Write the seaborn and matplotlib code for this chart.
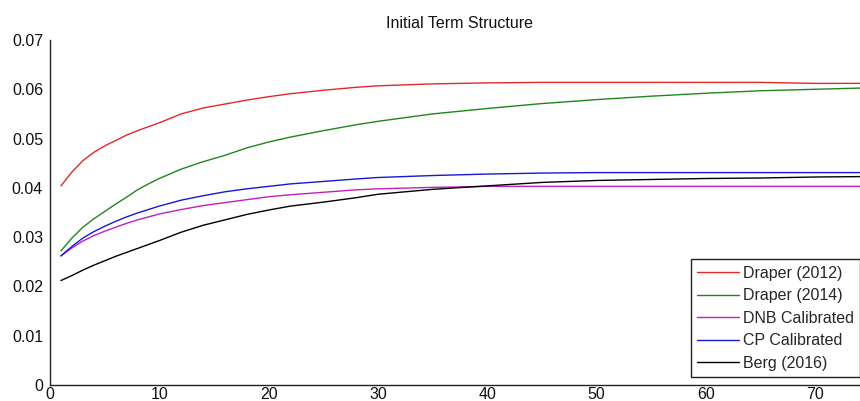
import matplotlib
matplotlib.use("Agg")
import matplotlib.pyplot as plt
import seaborn as sns
import pandas as pd

# ---- data ----
maturity = [1, 2, 3, 4, 5, 6, 7, 8, 9, 10, 12, 14, 16, 18, 20, 22, 25, 28, 30,
            35, 40, 45, 50, 55, 60, 65, 70, 75]

draper_2012 = [0.0404, 0.0432, 0.0455, 0.0472, 0.0485, 0.0496, 0.0507, 0.0516,
               0.0524, 0.0532, 0.0550, 0.0562, 0.0570, 0.0578, 0.0585, 0.0591,
               0.0598, 0.0604, 0.0607, 0.0611, 0.0613, 0.0614, 0.0614, 0.0614,
               0.0614, 0.0614, 0.0612, 0.0612]
draper_2014 = [0.0272, 0.0298, 0.0320, 0.0337, 0.0352, 0.0367, 0.0381, 0.0396,
               0.0408, 0.0419, 0.0438, 0.0453, 0.0466, 0.0481, 0.0493, 0.0503,
               0.0516, 0.0528, 0.0535, 0.0550, 0.0561, 0.0571, 0.0579, 0.0586,
               0.0592, 0.0597, 0.0600, 0.0603]
dnb_calibrated = [0.0262, 0.0278, 0.0292, 0.0303, 0.0312, 0.0320, 0.0328, 0.0335,
                  0.0341, 0.0347, 0.0356, 0.0364, 0.0370, 0.0376, 0.0382, 0.0386,
                  0.0391, 0.0396, 0.0398, 0.0401, 0.0403, 0.0403, 0.0403, 0.0403,
                  0.0403, 0.0403, 0.0403, 0.0403]
cp_calibrated = [0.0262, 0.0281, 0.0298, 0.0311, 0.0322, 0.0332, 0.0341, 0.0349,
                 0.0356, 0.0363, 0.0375, 0.0384, 0.0392, 0.0398, 0.0403, 0.0408,
                 0.0413, 0.0418, 0.0421, 0.0425, 0.0428, 0.0430, 0.0431, 0.0431,
                 0.0431, 0.0431, 0.0431, 0.0431]
berg_2016 = [0.0212, 0.0222, 0.0233, 0.0243, 0.0252, 0.0261, 0.0269, 0.0277,
             0.0285, 0.0293, 0.0310, 0.0324, 0.0335, 0.0346, 0.0355, 0.0363,
             0.0371, 0.0380, 0.0387, 0.0397, 0.0404, 0.0411, 0.0415, 0.0417,
             0.0419, 0.0420, 0.0422, 0.0423]

series_names = ["Draper (2012)", "Draper (2014)", "DNB Calibrated",
                "CP Calibrated", "Berg (2016)"]
series_values = [draper_2012, draper_2014, dnb_calibrated, cp_calibrated, berg_2016]

title = "Initial Term Structure"
x_ticks = [0, 10, 20, 30, 40, 50, 60, 70]
x_tick_labels = ["0", "10", "20", "30", "40", "50", "60", "70"]
y_ticks = [0, 0.01, 0.02, 0.03, 0.04, 0.05, 0.06, 0.07]
y_tick_labels = ["0", "0.01", "0.02", "0.03", "0.04", "0.05", "0.06", "0.07"]

colors = ["#e02a2a", "#1f861f", "#c020c0", "#1818d0", "#000000"]

# ---- build long-form table ----
rows = []
for name, vals in zip(series_names, series_values):
    for t, v in zip(maturity, vals):
        rows.append({"Maturity": t, "Rate": v, "Series": name})
df = pd.DataFrame(rows)

sns.set_style("white")
plt.rcParams["font.family"] = ["Liberation Sans", "DejaVu Sans"]

FS = 11.5
fig = plt.figure(figsize=(8.6, 4.01), dpi=100)
# axes: x=0 at px 50, y=0 at px 385, y=0.07 at px 40, 10.93 px per x unit
ax = fig.add_axes([50 / 860, 16 / 401, 75 * 10.93 / 860, 345 / 401])

sns.lineplot(data=df, x="Maturity", y="Rate", hue="Series",
             hue_order=series_names, palette=dict(zip(series_names, colors)),
             linewidth=1.0, legend=False, ax=ax)

ax.set_xlim(0, 75)
ax.set_ylim(0, 0.07)
ax.set_xticks(x_ticks)
ax.set_xticklabels(x_tick_labels)
ax.set_yticks(y_ticks)
ax.set_yticklabels(y_tick_labels)
ax.set_xlabel("")
ax.set_ylabel("")
ax.set_title(title, fontsize=FS, pad=8.4, color="#111111")

for side in ["top", "right"]:
    ax.spines[side].set_visible(False)
for side in ["left", "bottom"]:
    ax.spines[side].set_color("#222222")
    ax.spines[side].set_linewidth(1.0)

ax.tick_params(axis="both", direction="in", length=6, width=1.0,
               colors="#222222", labelsize=FS, labelcolor="#111111")
ax.tick_params(axis="x", pad=1.5)
ax.tick_params(axis="y", pad=5)

leg = ax.legend(ax.get_lines()[:len(series_names)], series_names,
                loc="lower left", bbox_to_anchor=(691 / 860, 24 / 401),
                bbox_transform=fig.transFigure, borderaxespad=0,
                fontsize=FS, frameon=True, fancybox=False, shadow=False,
                handlelength=2.6, handletextpad=0.25, labelspacing=0.47,
                borderpad=0.4)
leg.get_frame().set_edgecolor("#222222")
leg.get_frame().set_linewidth(1.0)
leg.get_frame().set_alpha(1.0)

fig.savefig("out.png", dpi=100)
